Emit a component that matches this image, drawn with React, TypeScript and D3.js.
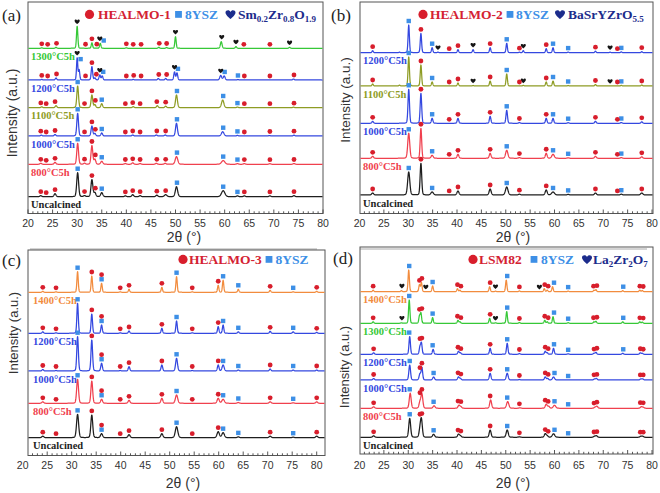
import React from "react";
import * as d3 from "d3";

// ---------------- shared ----------------
const X_MAJOR = d3.range(20, 81, 5);
const X_MINOR = d3.range(20, 81, 1);

const SERIF = '"Liberation Serif","Times New Roman",serif';
const SANS = '"Liberation Sans",Arial,sans-serif';

const RED_MK = "#d81e2c";
const SQ_MK = "#3d8fe6";
const HEART_MK = "#151515";
const NAVY = "#1c2c8c";

const COL_BLACK = "#1e1e1e";
const COL_RED = "#f0404e";
const COL_BLUE = "#3448e0";
const COL_OLIVE = "#8e9c24";
const COL_GREEN = "#36c837";
const COL_ORANGE = "#f28c3e";

// ---------------- panel (a) ----------------
const A_LABELS = ["1300°C5h", "1200°C5h", "1100°C5h", "1000°C5h", "800°C5h", "Uncalcined"];
const A_COLORS = [COL_GREEN, COL_BLUE, COL_OLIVE, COL_BLUE, COL_RED, COL_BLACK];
const A_OFFSETS = [165.2, 133.5, 105.8, 77.5, 49.2, 16.8];
const A_WIDTHS = [0.32, 0.35, 0.4, 0.4, 0.42, 0.45];
const A_PK_1300 = [[22.8, 0.5], [25.7, 1], [30.0, 22], [33.0, 5.5], [34.7, 5], [40.0, 0.5], [46.6, 1], [48.2, 0.8], [50.0, 11.6], [59.3, 6.6, 0.4], [62.3, 1.7], [73.2, 1]];
const A_PK_1200 = [[22.8, 0.6], [25.7, 2], [30.0, 22, 0.3], [30.4, 10, 0.3], [33.0, 13.3], [33.6, 2], [34.6, 5], [35.1, 4], [41.4, 0.6], [46.5, 1.5], [48.0, 1.5], [49.8, 8], [50.3, 7], [59.2, 4.5, 0.45], [59.9, 4, 0.45], [62.7, 0.5], [74.0, 1]];
const A_PK_1100 = [[22.8, 0.8], [25.7, 2], [30.1, 21.7], [33.0, 12.7], [33.6, 3], [35.0, 4], [41.4, 1], [46.3, 2], [48.0, 1.5], [50.2, 12.7, 0.45], [59.6, 7.7, 0.55], [62.6, 0.6], [74.0, 0.5]];
const A_PK_1000 = [[22.7, 0.8], [25.5, 1.5], [30.1, 22.7], [33.0, 10], [33.6, 2.5], [35.0, 3], [41.3, 1], [46.1, 1], [47.9, 1], [50.2, 12.7, 0.45], [59.6, 4.3, 0.6], [62.6, 0.6], [69.1, 0.5], [74.1, 0.8]];
const A_PK_800 = [[22.6, 1], [25.5, 2], [30.1, 21], [31.5, 1], [33.0, 18.7], [33.6, 5], [35.0, 3, 0.5], [39.8, 0.8], [41.3, 1.5], [42.8, 0.8], [46.1, 1], [47.9, 1], [50.2, 7.7, 0.6], [59.7, 3.7, 0.8], [62.6, 0.7], [64.0, 0.7], [69.2, 0.6], [74.1, 0.8]];
const A_PK_UNC = [[22.6, 1], [25.5, 3], [30.1, 24], [31.5, 1], [33.0, 17], [33.6, 4], [35.0, 4, 0.5], [39.8, 0.8], [41.3, 2], [42.8, 1], [46.2, 1.5], [48.0, 2, 0.6], [50.2, 10, 0.55], [59.7, 6, 0.8], [62.6, 0.8], [64.0, 0.8], [69.2, 0.8], [74.1, 1]];
const A_CIRC_STD = [22.6, 23.7, 25.5, 31.5, 33.0, 33.7, 39.8, 41.3, 42.8, 46.2, 48.0, 64.0, 69.2, 74.1];
const A_SQ_STD = [30.1, 35.0, 50.3, 59.7, 62.6];
const A_CIRC_1200 = [22.8, 24.0, 25.8, 31.7, 33.0, 33.9, 40.0, 41.5, 43.0, 46.6, 48.2, 64.0, 69.2, 74.1];
const A_SQ_1200 = [30.7, 35.3, 50.5, 60.0, 62.7];
const A_HEART_1200 = [30.0, 34.6, 49.8, 59.2];
const A_CIRC_1300 = [22.8, 24.0, 25.8, 31.7, 33.0, 34.0, 40.0, 41.4, 43.0, 46.7, 48.2, 63.9, 69.2];
const A_SQ_1300 = [35.4];
const A_HEART_1300 = [30.0, 34.6, 50.0, 59.4, 62.3, 73.2];

// ---------------- panel (b) ----------------
const B_LABELS = ["1200°C5h", "1100°C5h", "1000°C5h", "800°C5h", "Uncalcined"];
const B_COLORS = [COL_BLUE, COL_OLIVE, COL_BLUE, COL_RED, COL_BLACK];
const B_OFFSETS = [160.8, 127.5, 90.2, 55.2, 18.5];
const B_WIDTHS = [0.32, 0.33, 0.36, 0.42, 0.48];
const B_PK_1200 = [[22.7, 2], [28.2, 0.5], [30.1, 27.7], [32.6, 19.3], [34.9, 5], [36.1, 0.5], [40.2, 3], [43.3, 3], [46.8, 5], [50.2, 9.4], [52.8, 0.5], [53.6, 2], [58.3, 4], [59.7, 5], [62.8, 0.6], [68.4, 1.5], [71.4, 0.5], [73.7, 0.8], [77.9, 1]];
const B_PK_1100 = [[22.7, 2], [28.2, 0.8], [30.1, 29], [32.6, 21], [34.9, 4], [40.2, 3], [43.3, 0.5], [46.8, 5], [50.2, 12], [53.6, 0.6], [58.3, 4], [59.7, 5], [62.8, 0.5], [68.4, 1.5], [73.7, 0.6], [77.9, 1]];
const B_PK_1000 = [[22.7, 2], [30.1, 34], [32.6, 30], [34.9, 5], [40.2, 5], [46.8, 7], [50.2, 13], [52.8, 0.8], [58.3, 5], [59.7, 5], [62.8, 0.6], [68.4, 2], [73.7, 0.8], [77.9, 1.5]];
const B_PK_800 = [[22.7, 2], [30.1, 25, 0.48], [32.6, 30, 0.36], [34.9, 3, 0.5], [40.2, 4], [46.8, 5], [50.2, 8, 0.55], [52.8, 0.7], [58.3, 5], [59.7, 4, 0.6], [62.8, 0.5], [68.4, 2], [73.7, 0.7], [77.9, 1.5]];
const B_PK_UNC = [[22.7, 2], [30.1, 23, 0.52], [32.6, 31.7, 0.38], [34.9, 3, 0.6], [40.2, 4], [46.8, 6], [50.2, 8, 0.6], [52.8, 0.8], [58.3, 5], [59.7, 3, 0.7], [62.8, 0.6], [68.4, 2], [73.7, 0.8], [77.9, 2, 0.55]];
const B_CIRC = [22.7, 32.6, 38.4, 40.2, 46.8, 52.8, 58.3, 68.4, 72.9, 77.9];
const B_SQ = [30.1, 34.9, 50.2, 59.7, 62.8, 73.7];
const B_HEART_1200 = [36.1, 43.3, 53.6, 71.4];
const B_HEART_1100 = [43.3, 53.6, 71.4];

// ---------------- panel (c) ----------------
const C_LABELS = ["1400°C5h", "1200°C5h", "1000°C5h", "800°C5h", "Uncalcined"];
const C_COLORS = [COL_ORANGE, COL_BLUE, COL_BLUE, COL_RED, COL_BLACK];
const C_OFFSETS = [163.2, 122.2, 84.5, 52.2, 17.8];
const C_WIDTHS = [0.32, 0.34, 0.38, 0.45, 0.5];
const C_PK_1400 = [[24.1, 1], [26.8, 0.5], [31.2, 20.6], [34.1, 16.3], [36.1, 9], [39.9, 0.5], [41.7, 3], [48.4, 5], [51.4, 15.6], [54.6, 0.5], [59.9, 7], [60.9, 12], [64.0, 3], [70.5, 2], [75.2, 0.5], [80.0, 1]];
const C_PK_1200 = [[24.1, 1.5], [26.8, 0.5], [31.2, 30], [34.1, 19.3], [36.1, 8.3], [39.9, 0.5], [41.7, 2.3], [48.4, 5], [51.4, 12.3], [54.6, 0.5], [59.9, 6.7], [60.9, 8.3], [64.0, 1.5], [70.5, 2], [75.2, 1.5], [80.0, 1]];
const C_PK_1000 = [[24.1, 1.5], [26.8, 0.5], [31.2, 34.3], [34.1, 31], [36.1, 7.7], [39.9, 0.5], [41.7, 4.3], [48.4, 6], [51.4, 12.7, 0.45], [54.6, 0.5], [59.9, 6], [60.9, 6, 0.5], [64.0, 1], [70.5, 2], [75.2, 1], [80.0, 1]];
const C_PK_800 = [[24.1, 1.5], [31.2, 24], [34.1, 22.3, 0.42], [36.1, 4], [41.7, 3], [48.4, 5], [51.4, 8.3, 0.55], [59.9, 5, 0.5], [60.9, 4, 0.6], [64.0, 0.8], [70.5, 1.5], [75.2, 0.5], [80.0, 1.5]];
const C_PK_UNC = [[24.1, 1.5], [31.2, 23.3], [34.1, 22.7, 0.45], [36.1, 4], [41.7, 3], [48.4, 4], [51.4, 11, 0.6], [59.9, 6, 0.55], [60.9, 5, 0.6], [64.0, 0.8], [70.5, 1.5], [75.2, 0.5], [80.0, 1.5]];
const C_CIRC = [24.1, 26.8, 34.1, 39.9, 41.7, 48.4, 54.6, 59.9, 70.5, 80.0];
const C_CIRC_STACKED = [36.1];
const C_SQ = [31.2, 36.1, 51.4, 60.9, 64.0, 75.2];

// ---------------- panel (d) ----------------
const D_LABELS = ["1400°C5h", "1300°C5h", "1200°C5h", "1000°C5h", "800°C5h", "Uncalcined"];
const D_COLORS = [COL_ORANGE, COL_GREEN, COL_BLUE, COL_BLUE, COL_RED, COL_BLACK];
const D_OFFSETS = [162.3, 130.7, 99.7, 74, 45.7, 16.7];
const D_WIDTHS = [0.32, 0.32, 0.35, 0.4, 0.45, 0.45];
const D_PK_1400 = [[22.8, 1.5], [28.6, 1], [30.1, 21.7], [32.3, 7], [32.7, 9], [35.0, 5.7], [40.1, 3], [40.6, 1.5], [46.7, 5], [47.9, 0.5], [50.1, 11.7], [52.8, 0.8], [57.9, 3], [58.5, 1.5], [59.6, 5], [62.8, 0.6], [68.1, 1.5], [68.5, 2], [74.0, 1], [77.5, 1.5], [78.0, 1.2]];
const D_PK_1300 = [[22.8, 1.5], [28.6, 0.5], [30.2, 23.3], [32.3, 7], [32.6, 10], [35.0, 5.7], [40.2, 3], [40.6, 1.5], [46.7, 5], [47.9, 0.5], [50.2, 11.7], [52.8, 0.8], [58.0, 3], [58.5, 1.5], [59.7, 6.7], [62.8, 0.6], [68.1, 1.5], [68.5, 2], [74.0, 1.5], [77.5, 1.5], [78.0, 1.2]];
const D_PK_1200 = [[22.9, 1.5], [30.3, 17.7], [32.4, 7], [32.7, 11], [35.1, 5], [40.3, 3], [40.7, 1.5], [46.8, 6], [50.3, 11], [52.8, 0.8], [58.1, 3], [58.5, 1.5], [59.8, 6], [62.8, 0.5], [68.1, 1], [68.5, 2], [74.0, 1], [77.6, 1.5], [78.0, 1]];
const D_PK_1000 = [[22.9, 1.5], [30.3, 15], [32.4, 6], [32.8, 12.3, 0.36], [35.2, 3, 0.45], [40.3, 3], [40.7, 1.5], [46.8, 6.7], [50.3, 6.7, 0.45], [52.8, 0.5], [58.1, 3], [58.6, 1.5], [59.8, 3, 0.5], [68.2, 1], [68.6, 1.5], [77.7, 1], [78.1, 1]];
const D_PK_800 = [[22.9, 1.5], [30.4, 15], [32.4, 6], [32.8, 14], [35.3, 2.5, 0.5], [40.4, 3], [40.8, 1.5], [46.9, 8.3], [50.4, 6.7, 0.55], [52.9, 0.5], [58.3, 4], [58.8, 2], [60.0, 3, 0.6], [68.3, 1], [68.7, 2], [77.8, 1.5], [78.2, 1]];
const D_PK_UNC = [[22.9, 1.5], [30.3, 19], [32.4, 7], [32.7, 17.3], [35.2, 3, 0.5], [40.3, 3], [40.7, 1.5], [46.8, 7.3], [50.3, 7.3, 0.5], [52.8, 0.5], [58.1, 3.5], [58.5, 1.5], [59.8, 3.5, 0.6], [68.2, 1], [68.6, 1.5], [77.7, 1], [78.1, 1]];
const D_CIRC_HI = [22.8, 32.3, 32.8, 40.1, 40.8, 46.8, 52.8, 58.0, 58.7, 68.0, 68.7, 77.5, 78.2];
const D_CIRC_STD = [22.9, 32.4, 32.8, 40.2, 40.8, 46.8, 52.8, 58.1, 58.7, 68.1, 68.7, 77.6, 78.2];
const D_SQ_HI = [30.2, 35.0, 50.3, 59.9, 62.8, 74.1];
const D_SQ_STD = [30.3, 35.2, 50.3, 60.0, 62.8];
const D_HEART_1400 = [28.7, 33.6, 47.9, 56.9];
const D_HEART_1300 = [28.7, 47.9];

// ---------------- helpers ----------------
type Peak = number[];
type Mark = { pos: number; type: string; stack: number };

function marks(circ: number[], sq: number[], hearts: number[] = [], stacked: number[] = []): Mark[] {
  return [
    ...sq.map((p) => ({ pos: p, type: "s", stack: 0 })),
    ...hearts.map((p) => ({ pos: p, type: "h", stack: 0 })),
    ...circ.map((p) => ({ pos: p, type: "c", stack: 0 })),
    ...stacked.map((p) => ({ pos: p, type: "c", stack: 1 })),
  ];
}

function profile(peaks: Peak[], defW: number) {
  return (x: number) => {
    let s = 0;
    for (const p of peaks) {
      const w = p[2] ?? defW;
      const dx = x - p[0];
      const t = (4 * dx * dx) / (w * w);
      s += p[1] * (0.85 * Math.exp(-Math.LN2 * t) + 0.15 / (1 + t));
    }
    return s;
  };
}

function heartPath(x: number, y: number, s: number) {
  return `M${x},${y + 0.45 * s} C${x - 0.15 * s},${y + 0.3 * s} ${x - 0.5 * s},${y + 0.05 * s} ${x - 0.5 * s},${y - 0.2 * s} C${x - 0.5 * s},${y - 0.45 * s} ${x - 0.1 * s},${y - 0.52 * s} ${x},${y - 0.25 * s} C${x + 0.1 * s},${y - 0.52 * s} ${x + 0.5 * s},${y - 0.45 * s} ${x + 0.5 * s},${y - 0.2 * s} C${x + 0.5 * s},${y + 0.05 * s} ${x + 0.15 * s},${y + 0.3 * s} ${x},${y + 0.45 * s} Z`;
}

type RichPart = [string, boolean];
type LegendItem = { type: string; color: string; glyph: number; textX: number; parts: RichPart[] };

type PanelCfg = {
  letter: string;
  letterX: number;
  letterY: number;
  fx0: number;
  fx1: number;
  fy0: number;
  fy1: number;
  x20: number;
  x80: number;
  labelX: number;
  tickLabelY: number;
  titleX: number;
  titleY: number;
  ylabX: number;
  ylabY: number;
  ylabSize: number;
  legendY: number;
  legend: LegendItem[];
  sep: number[] | null;
  labels: string[];
  colors: string[];
  offsets: number[];
  widths: number[];
  peaks: Peak[][];
  marks: Mark[][];
};

const WIN: Record<string, number> = { c: 0.2, s: 0.6, h: 0.3 };

function Panel({ cfg }: { cfg: PanelCfg }) {
  const x = d3.scaleLinear().domain([20, 80]).range([cfg.x20, cfg.x80]);
  const y = d3.scaleLinear().domain([0, cfg.fy1 - cfg.fy0]).range([cfg.fy1, cfg.fy0]);
  const xmin = x.invert(cfg.fx0 + 0.5);
  const xmax = x.invert(cfg.fx1 - 0.5);
  const grid = d3.range(xmin, xmax, 0.03).concat([xmax]);
  const line = d3
    .line<[number, number]>()
    .x((d) => x(d[0]))
    .y((d) => y(d[1]));

  const inFrame = (v: number) => x(v) >= cfg.fx0 - 0.01 && x(v) <= cfg.fx1 + 0.01;

  return (
    <g>
      {/* frame */}
      <rect x={cfg.fx0} y={cfg.fy0} width={cfg.fx1 - cfg.fx0} height={cfg.fy1 - cfg.fy0} fill="none" stroke="#555" strokeWidth={1} />
      {/* ticks */}
      {X_MINOR.filter(inFrame).map((t) => (
        <line key={"m" + t} x1={x(t)} x2={x(t)} y1={cfg.fy1} y2={cfg.fy1 - (t % 5 === 0 ? 4 : 2.2)} stroke="#444" strokeWidth={0.9} />
      ))}
      {X_MAJOR.map((t) => (
        <text key={"l" + t} x={x(t)} y={cfg.tickLabelY} textAnchor="middle" fontFamily={SANS} fontSize={10.5} fill="#333">
          {t}
        </text>
      ))}
      <text x={cfg.titleX} y={cfg.titleY} textAnchor="middle" fontFamily={SANS} fontSize={14} fill="#333">
        2θ (°)
      </text>
      <text
        transform={`translate(${cfg.ylabX},${cfg.ylabY}) rotate(-90)`}
        textAnchor="middle"
        fontFamily={SANS}
        fontSize={cfg.ylabSize}
        fill="#333"
      >
        Intensity (a.u.)
      </text>
      <text x={cfg.letterX} y={cfg.letterY} fontFamily={SERIF} fontSize={17} fill="#222">
        {cfg.letter}
      </text>
      {cfg.sep && <line x1={cfg.sep[0]} x2={cfg.sep[1]} y1={cfg.sep[2]} y2={cfg.sep[2]} stroke="#aaa" strokeWidth={1} />}
      {/* curves */}
      {cfg.peaks.map((pk, i) => {
        const f = profile(pk, cfg.widths[i]);
        const off = cfg.offsets[i];
        const pts: [number, number][] = grid.map((g) => [g, off + f(g)]);
        const d = line(pts) || "";
        const mk = cfg.marks[i].map((m, j) => {
          const w = WIN[m.type];
          let mx = 0;
          for (let t = m.pos - w; t <= m.pos + w + 1e-9; t += 0.02) mx = Math.max(mx, f(t));
          const cy = y(off + mx) - 4 - m.stack * 4.6 - (m.type === "h" ? 0.6 : 0);
          const cx = x(m.pos);
          if (m.type === "c") return <circle key={j} cx={cx} cy={cy} r={2.4} fill={RED_MK} />;
          if (m.type === "s") return <rect key={j} x={cx - 2.2} y={cy - 2.2} width={4.4} height={4.4} fill={SQ_MK} />;
          return <path key={j} d={heartPath(cx, cy, 5.2)} fill={HEART_MK} />;
        });
        return (
          <g key={i}>
            <path d={d} fill="none" stroke={cfg.colors[i]} strokeWidth={1.25} strokeLinejoin="round" />
            {mk}
            <text x={cfg.labelX} y={y(off) + 11.5} fontFamily={SERIF} fontWeight="bold" fontSize={10.5} fill={cfg.colors[i]}>
              {cfg.labels[i]}
            </text>
          </g>
        );
      })}
      {/* legend */}
      {cfg.legend.map((it, k) => {
        const cy = cfg.legendY - 4.6;
        let glyph;
        if (it.type === "c") glyph = <circle cx={it.glyph} cy={cy} r={4.6} fill={RED_MK} />;
        else if (it.type === "s") glyph = <rect x={it.glyph - 3.4} y={cy - 3.4} width={6.8} height={6.8} fill={SQ_MK} />;
        else glyph = <path d={heartPath(it.glyph, cy, 10)} fill={NAVY} />;
        return (
          <g key={"lg" + k}>
            {glyph}
            <text x={it.textX} y={cfg.legendY} fontFamily={SERIF} fontWeight="bold" fontSize={13.5} fill={it.color}>
              {it.parts.map((p, q) =>
                p[1] ? (
                  <tspan key={q} fontSize={9} dy={3}>
                    {p[0]}
                  </tspan>
                ) : (
                  <tspan key={q} dy={q > 0 && it.parts[q - 1][1] ? -3 : 0}>
                    {p[0]}
                  </tspan>
                )
              )}
            </text>
          </g>
        );
      })}
    </g>
  );
}

const LEG_RED = "#d42232";
const LEG_BLUE = "#3d8fe6";

const PANELS: PanelCfg[] = [
  {
    letter: "(a)", letterX: 2, letterY: 21,
    fx0: 28, fx1: 323, fy0: 2, fy1: 213.5, x20: 28, x80: 323,
    labelX: 31, tickLabelY: 226.5, titleX: 184, titleY: 242, ylabX: 17, ylabY: 113, ylabSize: 14,
    legendY: 19,
    legend: [
      { type: "c", color: LEG_RED, glyph: 89.5, textX: 98, parts: [["HEALMO-1", false]] },
      { type: "s", color: LEG_BLUE, glyph: 178.5, textX: 185, parts: [["8YSZ", false]] },
      { type: "h", color: NAVY, glyph: 230.5, textX: 238, parts: [["Sm", false], ["0.2", true], ["Zr", false], ["0.8", true], ["O", false], ["1.9", true]] },
    ],
    sep: [30, 317, 249],
    labels: A_LABELS, colors: A_COLORS, offsets: A_OFFSETS, widths: A_WIDTHS,
    peaks: [A_PK_1300, A_PK_1200, A_PK_1100, A_PK_1000, A_PK_800, A_PK_UNC],
    marks: [
      marks(A_CIRC_1300, A_SQ_1300, A_HEART_1300),
      marks(A_CIRC_1200, A_SQ_1200, A_HEART_1200),
      marks(A_CIRC_STD, A_SQ_STD),
      marks(A_CIRC_STD, A_SQ_STD),
      marks(A_CIRC_STD, A_SQ_STD),
      marks(A_CIRC_STD, A_SQ_STD),
    ],
  },
  {
    letter: "(b)", letterX: 331, letterY: 21,
    fx0: 360, fx1: 653, fy0: 2, fy1: 213.5, x20: 359.5, x80: 652,
    labelX: 363, tickLabelY: 226.5, titleX: 513, titleY: 242, ylabX: 350, ylabY: 100, ylabSize: 13.5,
    legendY: 19,
    legend: [
      { type: "c", color: LEG_RED, glyph: 423, textX: 430, parts: [["HEALMO-2", false]] },
      { type: "s", color: LEG_BLUE, glyph: 510, textX: 516, parts: [["8YSZ", false]] },
      { type: "h", color: NAVY, glyph: 560, textX: 568, parts: [["BaSrYZrO", false], ["5.5", true]] },
    ],
    sep: [360, 647, 249],
    labels: B_LABELS, colors: B_COLORS, offsets: B_OFFSETS, widths: B_WIDTHS,
    peaks: [B_PK_1200, B_PK_1100, B_PK_1000, B_PK_800, B_PK_UNC],
    marks: [
      marks(B_CIRC, B_SQ, B_HEART_1200),
      marks(B_CIRC, B_SQ, B_HEART_1100),
      marks(B_CIRC, B_SQ),
      marks(B_CIRC, B_SQ),
      marks(B_CIRC, B_SQ),
    ],
  },
  {
    letter: "(c)", letterX: 2, letterY: 266,
    fx0: 28, fx1: 325, fy0: 250, fy1: 455.5, x20: 22.7, x80: 316.7,
    labelX: 33, tickLabelY: 468.5, titleX: 183, titleY: 488, ylabX: 18, ylabY: 333, ylabSize: 13,
    legendY: 264,
    legend: [
      { type: "c", color: LEG_RED, glyph: 183, textX: 189, parts: [["HEALMO-3", false]] },
      { type: "s", color: LEG_BLUE, glyph: 269, textX: 275.5, parts: [["8YSZ", false]] },
    ],
    sep: null,
    labels: C_LABELS, colors: C_COLORS, offsets: C_OFFSETS, widths: C_WIDTHS,
    peaks: [C_PK_1400, C_PK_1200, C_PK_1000, C_PK_800, C_PK_UNC],
    marks: [
      marks(C_CIRC, C_SQ, [], C_CIRC_STACKED),
      marks(C_CIRC, C_SQ, [], C_CIRC_STACKED),
      marks(C_CIRC, C_SQ, [], C_CIRC_STACKED),
      marks(C_CIRC, C_SQ, [], C_CIRC_STACKED),
      marks(C_CIRC, C_SQ, [], C_CIRC_STACKED),
    ],
  },
  {
    letter: "(d)", letterX: 333, letterY: 264,
    fx0: 360, fx1: 653, fy0: 247, fy1: 454, x20: 359.5, x80: 652,
    labelX: 363, tickLabelY: 468.5, titleX: 513, titleY: 488, ylabX: 349, ylabY: 367, ylabSize: 13,
    legendY: 264,
    legend: [
      { type: "c", color: LEG_RED, glyph: 473, textX: 479, parts: [["LSM82", false]] },
      { type: "s", color: LEG_BLUE, glyph: 534, textX: 541, parts: [["8YSZ", false]] },
      { type: "h", color: NAVY, glyph: 587, textX: 593, parts: [["La", false], ["2", true], ["Zr", false], ["2", true], ["O", false], ["7", true]] },
    ],
    sep: null,
    labels: D_LABELS, colors: D_COLORS, offsets: D_OFFSETS, widths: D_WIDTHS,
    peaks: [D_PK_1400, D_PK_1300, D_PK_1200, D_PK_1000, D_PK_800, D_PK_UNC],
    marks: [
      marks(D_CIRC_HI, D_SQ_HI, D_HEART_1400),
      marks(D_CIRC_HI, D_SQ_HI, D_HEART_1300),
      marks(D_CIRC_STD, D_SQ_HI),
      marks(D_CIRC_STD, D_SQ_STD),
      marks(D_CIRC_STD, D_SQ_STD),
      marks(D_CIRC_STD, D_SQ_STD),
    ],
  },
];

export default function App() {
  return (
    <svg
      width={660}
      height={493}
      viewBox="0 0 660 493"
      style={{ position: "absolute", left: 0, top: 0, background: "#fff" }}
    >
      <rect x={0} y={0} width={660} height={493} fill="#fff" />
      {PANELS.map((p, i) => (
        <Panel key={i} cfg={p} />
      ))}
    </svg>
  );
}
